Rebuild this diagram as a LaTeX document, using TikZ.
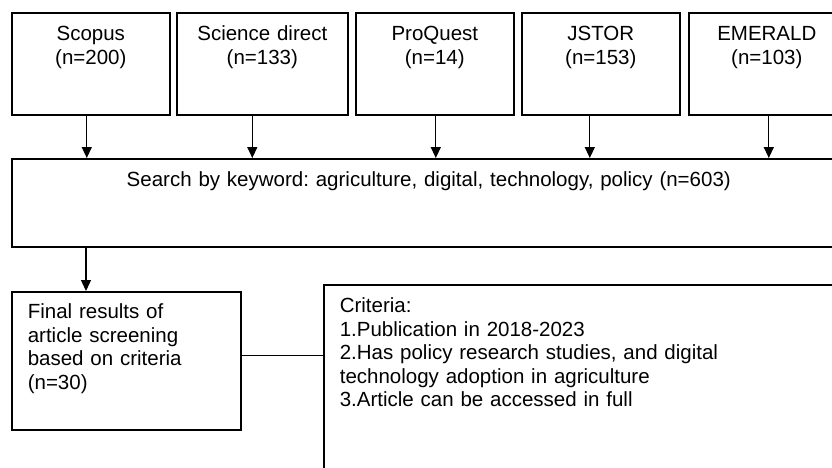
\documentclass[tikz,border=0pt]{standalone}
\usepackage{fontspec}
\setmainfont{Liberation Sans}
\usetikzlibrary{arrows.meta}
\frenchspacing

\begin{document}
\begin{tikzpicture}[x=1pt, y=-1pt,
    box/.style={draw, line width=1.6pt, rectangle, anchor=north west,
        inner xsep=0pt, inner ysep=0pt, font=\fontsize{20.5}{23.5}\selectfont},
    src/.style={box, align=center, text width=#1, text height=28pt, text depth=74pt},
    arr/.style={line width=1.3pt, -{Triangle[width=10pt,length=11pt]}}]

    \useasboundingbox (0,0) rectangle (832,467);

    %----- SEARCH BOX -----
    \node[box, align=center, text width=834pt, text height=28pt, text depth=60pt]
        (search) at (11,158)
        {Search by keyword: agriculture, digital, technology, policy (n=603)};

    %----- DATABASES, EACH FEEDING THE SEARCH -----
    \foreach \name/\x/\w/\dx/\txt in {
        scopus/11/158/-4/{Scopus\\(n=200)},
        sciencedirect/176/171/-10/{Science direct\\(n=133)},
        proquest/355/158/1/{ProQuest\\(n=14)},
        jstor/521/158/-11/{JSTOR\\(n=153)},
        emerald/688/156/2/{EMERALD\\(n=103)}} {
        \node[src=\w pt] (\name) at (\x,12) {\txt};
        \draw[arr] ([xshift=\dx pt]\name.south)
            -- ([xshift=\dx pt]\name.south |- search.north);
    }

    %----- SCREENING RESULT AND CRITERIA -----
    \node[box, align=left, inner xsep=16pt, text width=197pt,
          text height=27pt, text depth=111pt] (final) at (11,291)
        {Final results of\\article screening\\based on criteria\\(n=30)};
    \node[box, align=left, inner xsep=16pt, text width=500pt,
          text height=28pt, text depth=200pt] (criteria) at (323,284)
        {Criteria:\\1.Publication in 2018-2023\\
         2.Has policy research studies, and digital\\
         technology adoption in agriculture\\3.Article can be accessed in full};

    \draw[arr] ([xshift=75pt]final.north west |- search.south)
        -- ([xshift=75pt]final.north west);
    \draw[line width=1.3pt] ([yshift=5pt]final.east)
        -- ([yshift=5pt]final.east -| criteria.west);

\end{tikzpicture}
\end{document}
